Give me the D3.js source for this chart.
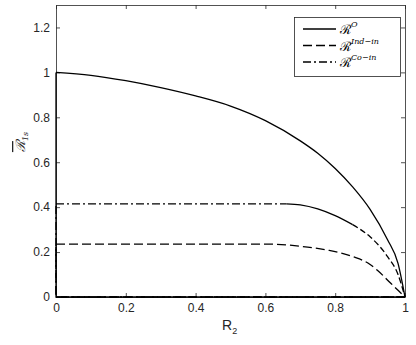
<!DOCTYPE html>
<html>
<head>
<meta charset="utf-8">
<script src="https://cdn.jsdelivr.net/npm/d3@7"></script>
<style>
  body { margin: 0; background: #fff; }
  svg { display: block; }
  .tick text { font-family: "Liberation Sans", Arial, sans-serif; font-size: 12px; fill: #262626; }
</style>
</head>
<body>
<div id="chart"></div>
<script>
// values
var xTicks = [0, 0.2, 0.4, 0.6, 0.8, 1];
var yTicks = [0, 0.2, 0.4, 0.6, 0.8, 1, 1.2];

var outerX = [0, 0.1, 0.2, 0.3, 0.4, 0.5, 0.6, 0.7, 0.75, 0.8, 0.85, 0.9, 0.95, 0.98, 1];
var outerY = [1, 0.987, 0.963, 0.932, 0.895, 0.85, 0.785, 0.695, 0.64, 0.572, 0.49, 0.39, 0.255, 0.15, 0];

var indX = [0, 0.62, 0.7, 0.78, 0.85, 0.9, 0.92, 0.96, 1];
var indY = [0.235, 0.235, 0.226, 0.208, 0.18, 0.145, 0.12, 0.06, 0];

var coX = [0, 0.66, 0.7, 0.75, 0.8, 0.85, 0.9, 0.95, 0.98, 1];
var coY = [0.415, 0.415, 0.41, 0.392, 0.362, 0.322, 0.268, 0.18, 0.1, 0];

var legendLabels = [
  { base: "\u211B", sup: "O" },
  { base: "\u211B", sup: "Ind\u2212in" },
  { base: "\u211B", sup: "Co\u2212in" }
];

var W = 416, H = 345;
var mLeft = 56, mRight = 405, mTop = 5, mBottom = 297;

var x = d3.scaleLinear().domain([0, 1]).range([mLeft, mRight]);
var y = d3.scaleLinear().domain([0, 1.3]).range([mBottom, mTop]);

var svg = d3.select("#chart").append("svg")
    .attr("width", W)
    .attr("height", H);

function zipPts(xs, ys) {
    return xs.map(function(d, i) { return [d, ys[i]]; });
}

var line = d3.line()
    .x(function(d) { return x(d[0]); })
    .y(function(d) { return y(d[1]); });
var smooth = d3.line()
    .curve(d3.curveMonotoneX)
    .x(function(d) { return x(d[0]); })
    .y(function(d) { return y(d[1]); });

// axes (MATLAB box style, ticks inside)
var axisColor = "#262626";
var fmt = function(d) { return d === 0 || d === 1 ? d3.format("d")(d) : d3.format(".1f")(d); };

var gx = svg.append("g")
    .attr("transform", "translate(0," + mBottom + ")")
    .call(d3.axisBottom(x).tickValues(xTicks).tickSizeInner(-4).tickSizeOuter(0).tickPadding(8).tickFormat(fmt));
var gy = svg.append("g")
    .attr("transform", "translate(" + mLeft + ",0)")
    .call(d3.axisLeft(y).tickValues(yTicks).tickSizeInner(-4).tickSizeOuter(0).tickPadding(6).tickFormat(fmt));
var gxt = svg.append("g")
    .attr("transform", "translate(0," + mTop + ")")
    .call(d3.axisTop(x).tickValues(xTicks).tickSizeInner(-4).tickSizeOuter(0).tickFormat(""));
var gyr = svg.append("g")
    .attr("transform", "translate(" + mRight + ",0)")
    .call(d3.axisRight(y).tickValues(yTicks).tickSizeInner(-4).tickSizeOuter(0).tickFormat(""));

[gx, gy, gxt, gyr].forEach(function(g) {
    g.selectAll("path.domain").attr("stroke", axisColor).attr("stroke-width", 0.8);
    g.selectAll(".tick line").attr("stroke", axisColor).attr("stroke-width", 0.8);
});
gx.selectAll(".tick text").attr("dy", "0.55em");

// curves: each region is closed along the axes
var lw = 1.3;
var DASH = "9,4";
var DASHDOT = "8,3,2,3";

function drawPath(pts, dash, gen) {
    svg.append("path")
        .datum(pts)
        .attr("d", gen || line)
        .attr("fill", "none")
        .attr("stroke", "#000")
        .attr("stroke-width", lw)
        .attr("stroke-dasharray", dash);
}

var outerPts = zipPts(outerX, outerY);
drawPath([[1, 0], [0, 0], [0, outerY[0]]], null);
drawPath(outerPts, null, smooth);

var indPts = zipPts(indX, indY);
drawPath([[1, 0], [0, 0], [0, indY[0]]], DASH);
drawPath(indPts, DASH, smooth);

var coPts = zipPts(coX, coY);
drawPath([[1, 0], [0, 0], [0, coY[0]]], DASHDOT);
drawPath(coPts.slice(0, 2), DASHDOT);
drawPath(coPts.slice(1, 6), null, smooth);
drawPath(coPts.slice(5), "6,3", smooth);

// axis labels
svg.append("text")
    .attr("x", 222)
    .attr("y", 330)
    .attr("font-family", "Liberation Sans, Arial, sans-serif")
    .attr("font-size", 14)
    .attr("fill", axisColor)
    .text("R")
  .append("tspan")
    .attr("font-size", 9)
    .attr("dy", 4)
    .text("2");

var yl = svg.append("text")
    .attr("transform", "translate(25,142) rotate(-90)")
    .attr("text-anchor", "middle")
    .attr("font-family", "DejaVu Serif, serif")
    .attr("fill", axisColor);
yl.append("tspan")
    .attr("font-size", 13)
    .attr("font-style", "italic")
    .attr("text-decoration", "overline")
    .text("\u211B");
yl.append("tspan")
    .attr("font-size", 8)
    .attr("font-style", "italic")
    .attr("dy", 3)
    .text("1s");

// legend
var lg = svg.append("g");
lg.append("rect")
    .attr("x", 294.5).attr("y", 17.5)
    .attr("width", 106).attr("height", 59)
    .attr("fill", "#fff")
    .attr("stroke", axisColor)
    .attr("stroke-width", 0.8);

var legendDash = [null, DASH, DASHDOT];
legendLabels.forEach(function(d, i) {
    var ry = 29 + i * 16.5;
    lg.append("line")
        .attr("x1", 303).attr("x2", 336)
        .attr("y1", ry).attr("y2", ry)
        .attr("stroke", "#000")
        .attr("stroke-width", lw)
        .attr("stroke-dasharray", legendDash[i]);
    var t = lg.append("text")
        .attr("x", 340)
        .attr("y", ry + 5)
        .attr("font-family", "DejaVu Serif, serif")
        .attr("fill", "#000");
    t.append("tspan").attr("font-size", 13).text(d.base);
    t.append("tspan")
        .attr("font-size", 8)
        .attr("font-style", "italic")
        .attr("dy", -7)
        .text(d.sup);
});
</script>
</body>
</html>
